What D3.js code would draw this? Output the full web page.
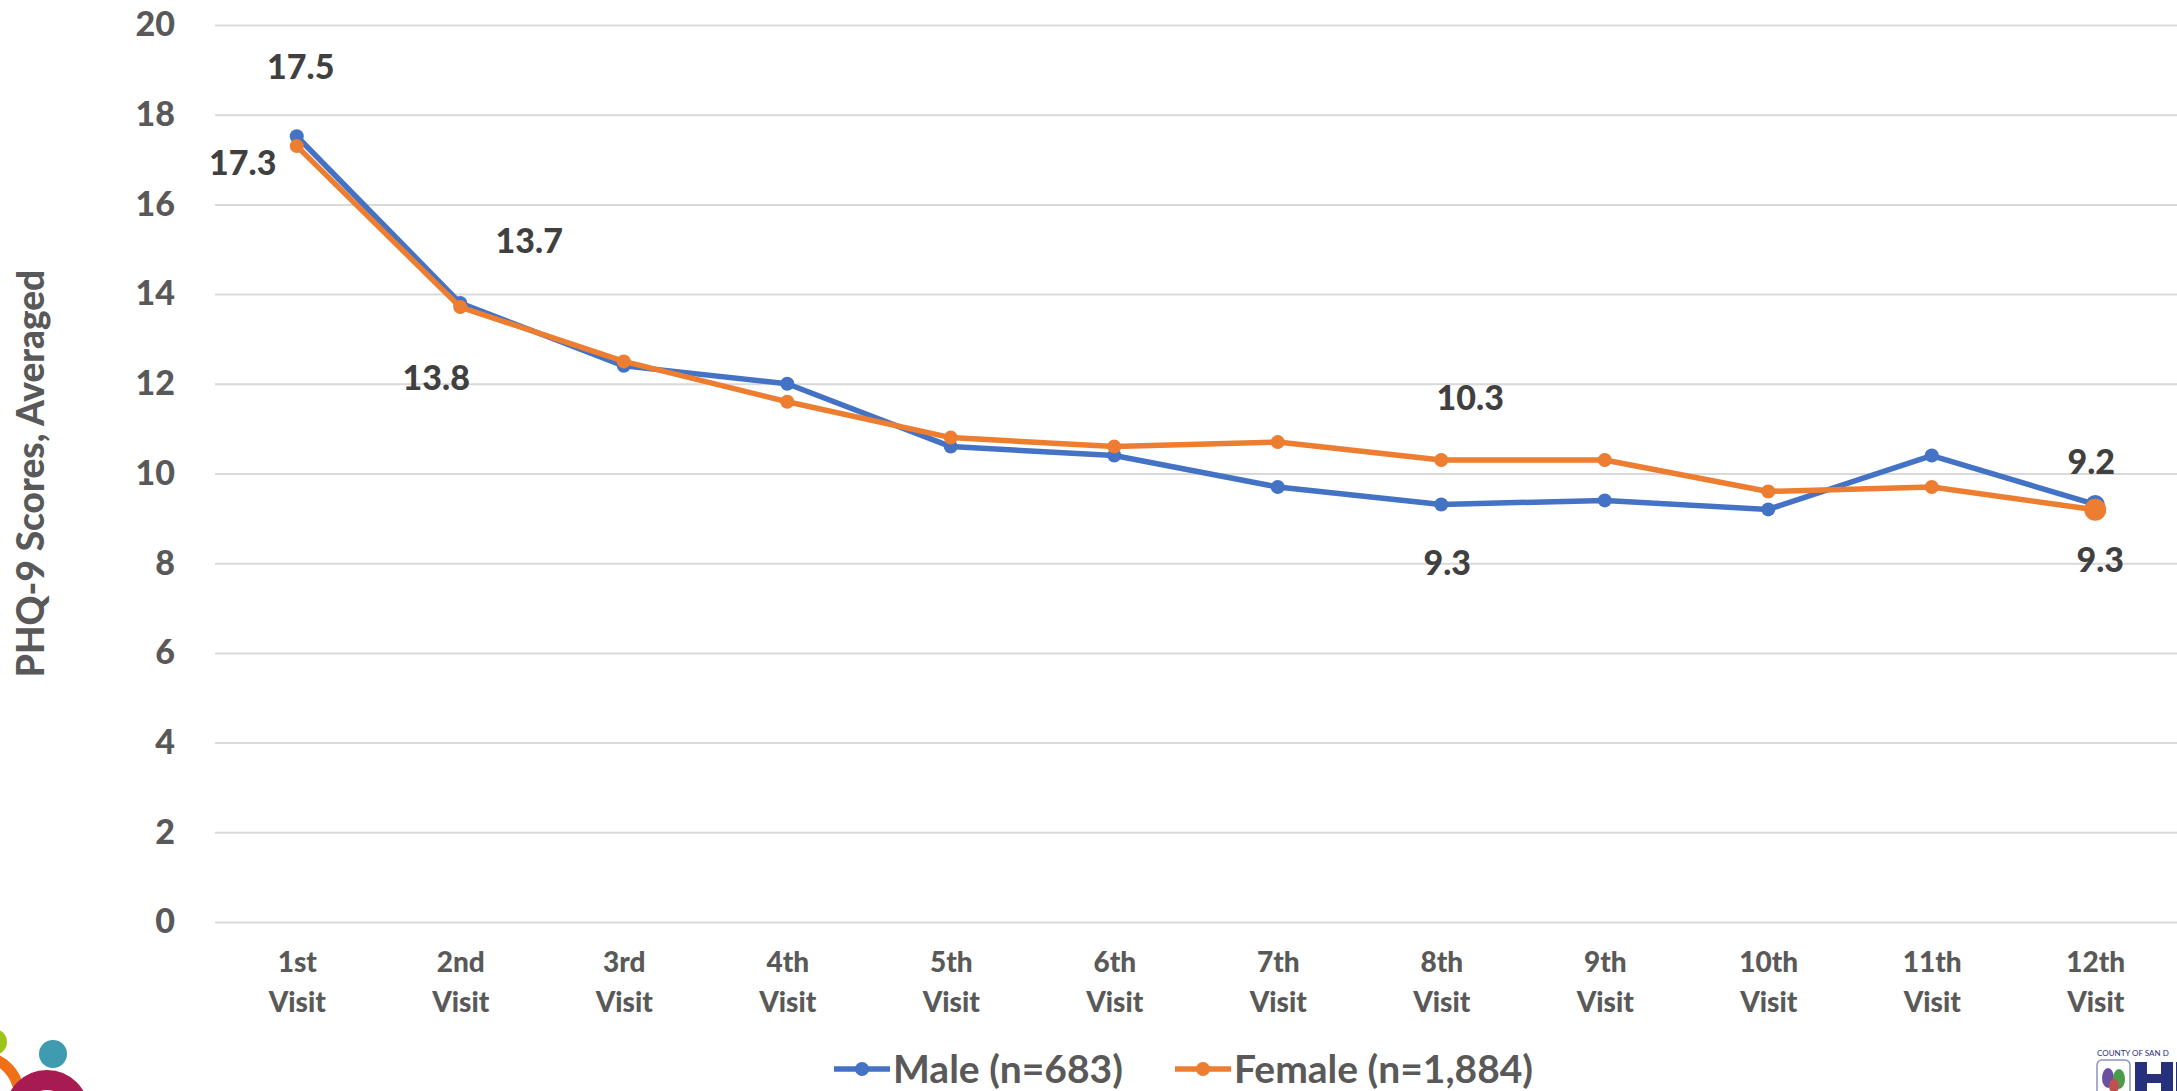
<!DOCTYPE html>
<html>
<head>
<meta charset="utf-8">
<script src="https://cdn.jsdelivr.net/npm/d3@7"></script>
<style>
  body { margin: 0; background: #fff; }
  svg text { font-family: Lato, "Open Sans", sans-serif; font-weight: 900; }
  .grid line { stroke: #d9d9d9; stroke-width: 2; }
  .grid path { display: none; }
</style>
</head>
<body>
<svg id="chart"></svg>
<script>
// chart values
var visits = ["1st Visit", "2nd Visit", "3rd Visit", "4th Visit", "5th Visit", "6th Visit",
  "7th Visit", "8th Visit", "9th Visit", "10th Visit", "11th Visit", "12th Visit"];
var male = [17.52, 13.8, 12.4, 12.0, 10.6, 10.4, 9.7, 9.31, 9.4, 9.2, 10.4, 9.31];
var female = [17.3, 13.71, 12.5, 11.6, 10.8, 10.6, 10.7, 10.3, 10.3, 9.6, 9.7, 9.19];
var seriesNames = ["Male (n=683)", "Female (n=1,884)"];
var yTicks = [0, 2, 4, 6, 8, 10, 12, 14, 16, 18, 20];
// which points carry a value label: [series, visit index, placement]
var labelled = [
  [0, 0, "top"], [1, 0, "left"],
  [1, 1, "topRight"], [0, 1, "bottomLeft"],
  [1, 7, "topRight2"], [0, 7, "bottom"],
  [1, 11, "topNear"], [0, 11, "bottom2"]
];

var width = 2177, height = 1091;
var margin = { top: 25, right: 0, bottom: 169, left: 215 };
var colors = ["#4472C4", "#ED7D31"];

var svg = d3.select("#chart")
  .attr("width", width)
  .attr("height", height);

var xScale = d3.scalePoint()
  .domain(visits)
  .range([margin.left, width - margin.right])
  .padding(0.5);

var yScale = d3.scaleLinear()
  .domain([0, 20])
  .range([height - margin.bottom, margin.top]);

// gridlines
svg.append("g")
  .attr("class", "grid")
  .attr("transform", "translate(" + margin.left + ",0)")
  .call(d3.axisLeft(yScale).tickValues(yTicks)
    .tickSize(-(width - margin.left - margin.right))
    .tickFormat(""));

// y tick labels
var yAxis = svg.append("g")
  .attr("transform", "translate(" + (margin.left - 40) + ",0)")
  .call(d3.axisLeft(yScale).tickValues(yTicks).tickSize(0).tickPadding(0));
yAxis.select(".domain").remove();
yAxis.selectAll("text")
  .attr("fill", "#595959")
  .style("font-size", "34px")
  .style("font-family", "Lato, sans-serif")
  .style("font-weight", "900");

// x labels on two lines
var xAxis = svg.append("g")
  .attr("transform", "translate(0," + (height - margin.bottom) + ")")
  .call(d3.axisBottom(xScale).tickSize(0).tickFormat(""));
xAxis.select(".domain").remove();
xAxis.selectAll(".tick").append("text")
  .attr("fill", "#595959")
  .attr("text-anchor", "middle")
  .style("font-size", "28px")
  .selectAll("tspan")
  .data(function(d) { return d.split(" "); })
  .enter().append("tspan")
  .attr("x", 0)
  .attr("y", function(d, i) { return 50 + i * 40; })
  .text(function(d) { return d; });

// y axis title
svg.append("text")
  .attr("transform", "translate(44," + ((margin.top + height - margin.bottom) / 2) + ") rotate(-90)")
  .attr("text-anchor", "middle")
  .attr("fill", "#595959")
  .style("font-size", "37px")
  .text("PHQ-9 Scores, Averaged");

var line = d3.line()
  .x(function(d, i) { return xScale(visits[i]); })
  .y(function(d) { return yScale(d); });

var allSeries = [male, female];

allSeries.forEach(function(values, s) {
  svg.append("path")
    .datum(values)
    .attr("fill", "none")
    .attr("stroke", colors[s])
    .attr("stroke-width", 5.5)
    .attr("stroke-linejoin", "round")
    .attr("d", line);

  svg.selectAll(".dot" + s)
    .data(values)
    .enter().append("circle")
    .attr("class", "dot" + s)
    .attr("cx", function(d, i) { return xScale(visits[i]); })
    .attr("cy", function(d) { return yScale(d); })
    .attr("r", function(d, i) { return i == values.length - 1 ? (s == 1 ? 11 : 9.5) : 7; })
    .attr("fill", colors[s]);
});

// value labels
var offsets = {
  top: [4, -57],
  left: [-54, 29],
  topRight: [69, -54],
  topRight2: [29, -50],
  topNear: [-4, -36],
  bottomLeft: [-24, 87],
  bottom: [6, 71],
  bottom2: [5, 68]
};
svg.selectAll(".vlabel")
  .data(labelled)
  .enter().append("text")
  .attr("class", "vlabel")
  .attr("text-anchor", "middle")
  .attr("fill", "#404040")
  .style("font-size", "34px")
  .attr("x", function(d) { return xScale(visits[d[1]]) + offsets[d[2]][0]; })
  .attr("y", function(d) { return yScale(allSeries[d[0]][d[1]]) + offsets[d[2]][1]; })
  .text(function(d) { return d3.format(".1f")(allSeries[d[0]][d[1]]); });

// legend
var legendX = [834, 1175];
var legend = svg.selectAll(".legend")
  .data(seriesNames)
  .enter().append("g")
  .attr("class", "legend")
  .attr("transform", function(d, i) { return "translate(" + legendX[i] + ",1069)"; });
legend.append("line")
  .attr("x1", 0).attr("x2", 56)
  .attr("stroke", function(d, i) { return colors[i]; })
  .attr("stroke-width", 5.5);
legend.append("circle")
  .attr("cx", 28).attr("r", 7)
  .attr("fill", function(d, i) { return colors[i]; });
legend.append("text")
  .attr("x", 59)
  .attr("y", 14)
  .attr("fill", "#595959")
  .style("font-size", "39px")
  .style("font-weight", "bold")
  .text(function(d) { return d; });

// corner logos
var logoL = svg.append("g");
logoL.append("circle").attr("cx", -6).attr("cy", 1042).attr("r", 13).attr("fill", "#9dc41a");
logoL.append("path").attr("d", "M-8,1058 A40,40 0 0,1 18,1086")
  .attr("fill", "none").attr("stroke", "#f07019").attr("stroke-width", 11);
logoL.append("circle").attr("cx", 53).attr("cy", 1054).attr("r", 14).attr("fill", "#3f9bb0");
logoL.append("circle").attr("cx", 47).attr("cy", 1112).attr("r", 32)
  .attr("fill", "none").attr("stroke", "#a71a52").attr("stroke-width", 20);

var logoR = svg.append("g");
logoR.append("text").attr("x", 2097).attr("y", 1056)
  .attr("fill", "#27307a").style("font-size", "8px").style("font-weight", "normal")
  .text("COUNTY OF SAN D");
logoR.append("rect").attr("x", 2097).attr("y", 1060).attr("width", 33).attr("height", 40).attr("rx", 5)
  .attr("fill", "none").attr("stroke", "#8a93c0").attr("stroke-width", 1.5);
logoR.append("ellipse").attr("cx", 2108).attr("cy", 1078).attr("rx", 6).attr("ry", 10).attr("fill", "#6b4fa0");
logoR.append("ellipse").attr("cx", 2119).attr("cy", 1079).attr("rx", 6).attr("ry", 10).attr("fill", "#4c9a4c");
logoR.append("ellipse").attr("cx", 2114).attr("cy", 1086).attr("rx", 5).attr("ry", 7).attr("fill", "#c0504d");
logoR.append("path").attr("d", "M2135,1062 h12 v12 h14 v-12 h12 v29 h-12 v-8 h-14 v8 h-12 z M2176,1062 h12 v29 h-12 z")
  .attr("fill", "#27307a");
</script>
</body>
</html>
